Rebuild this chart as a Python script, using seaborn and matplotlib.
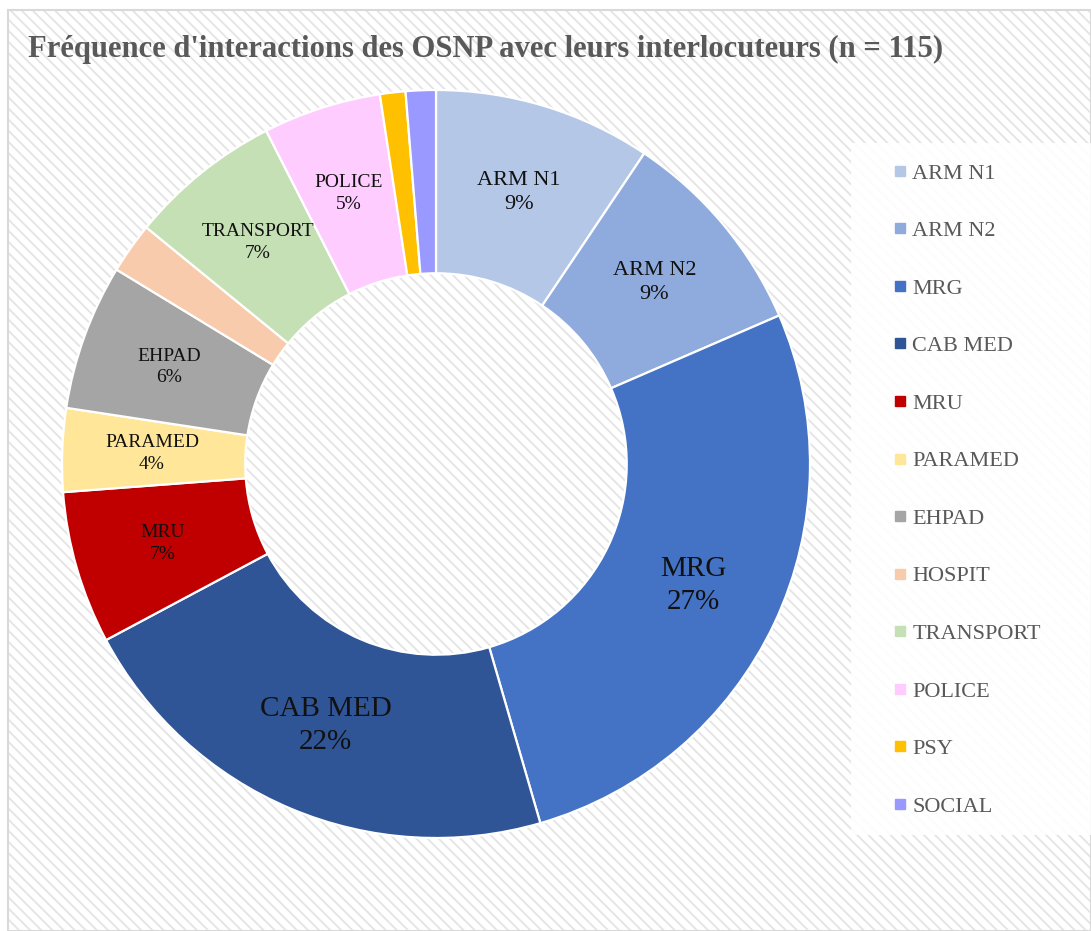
import seaborn as sns
import matplotlib.pyplot as plt
from matplotlib.patches import Rectangle
from matplotlib.lines import Line2D
import numpy as np

# Interlocutor shares (% of interactions)
categories = ['ARM N1', 'ARM N2', 'MRG', 'CAB MED', 'MRU', 'PARAMED',
              'EHPAD', 'HOSPIT', 'TRANSPORT', 'POLICE', 'PSY', 'SOCIAL']
shares = [9.4, 9.1, 27.0, 21.7, 6.6, 3.6, 6.3, 2.2, 6.6, 5.1, 1.1, 1.3]
colors = ['#b4c7e7', '#8faadc', '#4472c4', '#2f5597', '#c00000', '#ffe699',
          '#a5a5a5', '#f8cbad', '#c5e0b4', '#ffccff', '#ffc000', '#9999ff']
label_sizes = [16, 16, 21, 21, 14, 14, 14, 0, 14, 14, 0, 0]  # 0 = no label

sns.set_style('white')
plt.rcParams['font.family'] = ['Liberation Serif', 'DejaVu Serif']
plt.rcParams['hatch.linewidth'] = 1.3

W, H = 1091, 931
fig = plt.figure(figsize=(W / 100, H / 100), dpi=100)
fig.patch.set_facecolor('white')

# hatched chart area background
bg = fig.add_axes([0, 0, 1, 1])
bg.set_xlim(0, W)
bg.set_ylim(H, 0)
bg.axis('off')
bg.add_patch(Rectangle((8, 10), W - 8, H - 10, facecolor='white',
                       edgecolor='#e4e4e4', linewidth=0, hatch='\\\\\\'))
bg.add_patch(Rectangle((8, 10), W - 8, H - 10, facecolor='none',
                       edgecolor='#d9d9d9', linewidth=1.5))
# legend panel
bg.add_patch(Rectangle((851, 143), W - 851, 692, facecolor='white',
                       edgecolor='none', alpha=0.9))

# donut
cx, cy, r = 436, 464, 374
ax = fig.add_axes([(cx - r) / W, (H - cy - r) / H, 2 * r / W, 2 * r / H])
ax.set_facecolor('none')
wedges, _ = ax.pie(shares, colors=colors, startangle=90, counterclock=False,
                   radius=1, wedgeprops=dict(width=0.49, edgecolor='white',
                                             linewidth=1.6))
ax.set_xlim(-1, 1)
ax.set_ylim(-1, 1)
ax.set_aspect('equal')
ax.axis('off')

total = sum(shares)
for w, name, val, fs in zip(wedges, categories, shares, label_sizes):
    if fs == 0:
        continue
    ang = np.deg2rad((w.theta1 + w.theta2) / 2)
    rr = 0.76
    ax.text(rr * np.cos(ang), rr * np.sin(ang), f'{name}\n{val / total * 100:.0f}%',
            ha='center', va='center', fontsize=fs, color='#111111',
            linespacing=1.35)

# legend
handles = [Line2D([], [], marker='s', linestyle='none', markersize=7.5,
                  markerfacecolor=c, markeredgecolor=c) for c in colors]
leg = fig.legend(handles, categories, loc='upper left',
                 bbox_to_anchor=(889 / W, 1 - 163 / H), frameon=False,
                 fontsize=16, labelspacing=1.665, handletextpad=0.05,
                 handlelength=1.0, borderpad=0, borderaxespad=0)
for t in leg.get_texts():
    t.set_color('#595959')

fig.text(28 / W, 1 - 57 / H,
         "Fréquence d'interactions des OSNP avec leurs interlocuteurs (n = 115)",
         fontsize=22.1, fontweight='bold', color='#595959', va='baseline')

fig.savefig('out.png', dpi=100)
